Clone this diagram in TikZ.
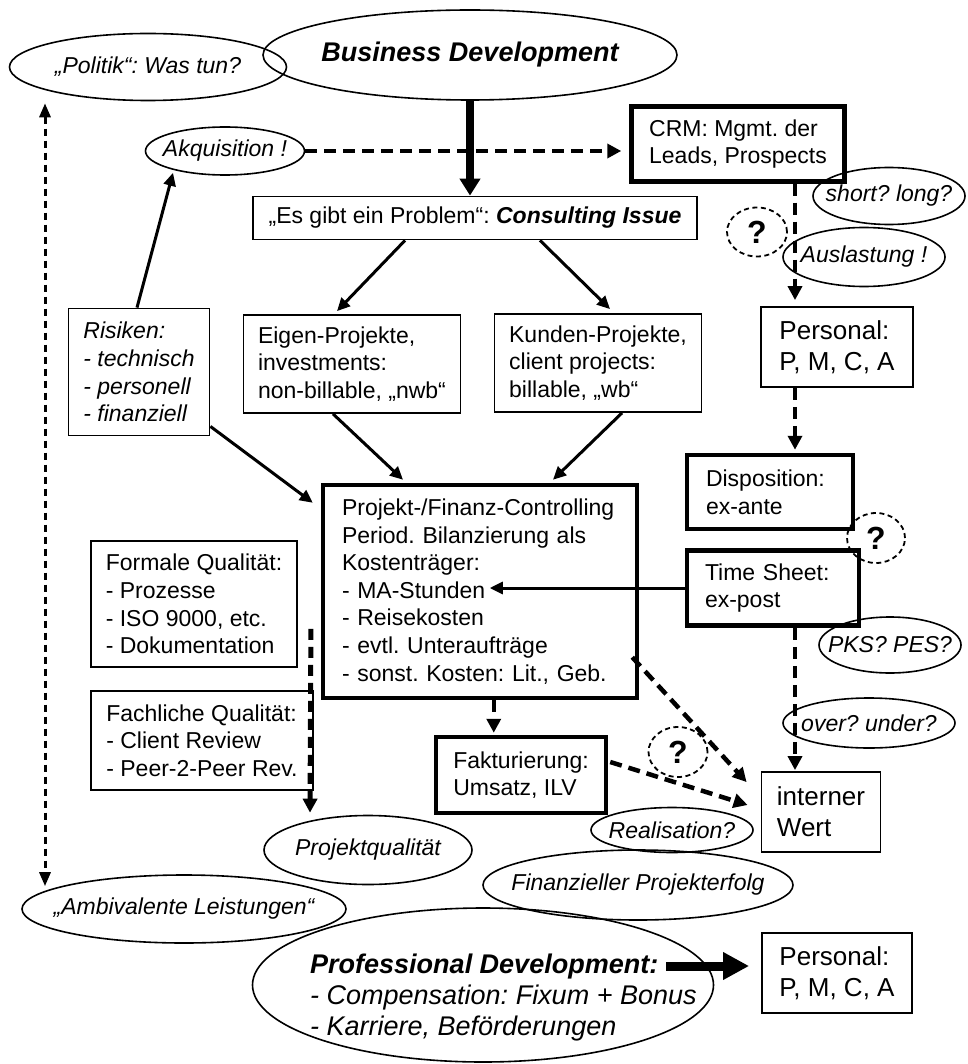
\documentclass[tikz,border=0pt]{standalone}
\usepackage{fontspec}
\setmainfont{Liberation Sans}
\usetikzlibrary{shapes.geometric,arrows.meta,calc}
\frenchspacing
% font size in pt with 1.2 line spacing
\newcommand\fsz[1]{\fontsize{#1pt}{\the\dimexpr #1pt*6/5\relax}\selectfont}
% zero-width label so the ellipse keeps its given size
\newcommand\zw[1]{\makebox[0pt]{#1}}

\begin{document}
\begin{tikzpicture}[x=1pt,y=-1pt,
  every node/.style={font=\fsz{23}},
  sz/.style 2 args={minimum width=#1pt, minimum height=#2pt},
  thinbox/.style={draw, line width=1.8pt, inner sep=0pt, align=left},
  thickbox/.style={draw, line width=4.5pt, inner sep=0pt, align=left},
  oval/.style={draw, ellipse, line width=1.6pt, inner sep=0pt, font=\fsz{23}\itshape},
  qmark/.style={draw, ellipse, line width=1.8pt, dash pattern=on 5pt off 3.5pt,
    inner sep=0pt, font=\fsz{32}\bfseries},
  conn/.style={line width=3pt, -{Triangle[length=13pt,width=12pt]}},
  dconn/.style={line width=4.5pt, dash pattern=on 12pt off 7pt,
    -{Triangle[length=14pt,width=14pt]}},
  qconn/.style={line width=5pt, dash pattern=on 11pt off 7pt,
    -{Triangle[length=14pt,width=14pt]}},
  dotconn/.style={line width=3pt, dash pattern=on 7pt off 5pt,
    {Triangle[length=14pt,width=11pt]}-{Triangle[length=14pt,width=11pt]}},
  bigconn/.style={line width=8pt, -{Triangle[length=17pt,width=20pt]}},
  hugeconn/.style={line width=9pt, -{Triangle[length=26pt,width=26pt]}},
]
\fill[white] (0,0) rectangle (967,1064);
\useasboundingbox (0,0) rectangle (967,1064);

% top row
\node[oval, sz={277}{67}] (politik) at (148,67) {\zw{„Politik“: Was tun?}};
\node[oval, sz={414}{90}, font=\fsz{27}\bfseries\itshape] (bd) at (470,55) {\zw{Business Development}};
\node[oval, sz={159}{48}] (akq) at (225,151) {\zw{Akquisition !}};
\node[thickbox, sz={213}{75}] (crm) at (738,144) {CRM: Mgmt. der\\Leads, Prospects};
\node[thinbox, sz={444}{43}, align=center] (ci) at (475,218) {„Es gibt ein Problem“: \textbf{\textit{Consulting Issue}}};
\node[oval, sz={152}{57}] (short) at (889,196) {\zw{short? long?}};
\node[qmark, sz={60}{49}] (q1) at (757,232) {?};
\node[oval, sz={162}{59}] (ausl) at (864,257) {\zw{Auslastung !}};
\node[thinbox, sz={152}{80}, font=\fsz{26}] (pers1) at (837,347) {Personal:\\P, M, C, A};

% project types and risks
\node[thinbox, sz={217}{98}] (eigen) at (352,364) {Eigen-Projekte,\\investments:\\non-billable, „nwb“};
\node[thinbox, sz={207}{98}] (kunden) at (598,363) {Kunden-Projekte,\\client projects:\\billable, „wb“};
\node[thinbox, sz={141}{127}, font=\fsz{23}\itshape] (ris) at (139,372) {Risiken:\\- technisch\\- personell\\- finanziell};

% controlling block
\node[thickbox, sz={314}{213}, text width=276pt] (ctrl) at (480,591.5) {Projekt-/Finanz-Controlling\\Period. Bilanzierung als\\Kostenträger:\\- MA-Stunden\\- Reisekosten\\- evtl. Unteraufträge\\- sonst. Kosten: Lit., Geb.};
\node[thickbox, sz={166}{74}, text width=128pt] (disp) at (770,492) {Disposition:\\ex-ante};
\node[qmark, sz={58}{50}] (q2) at (876,538) {?};
\node[thickbox, sz={172}{75}, text width=136pt] (ts) at (773,588) {Time Sheet:\\ex-post};
\node[oval, sz={142}{56}] (pks) at (890,645) {\zw{PKS? PES?}};

% quality
\node[thinbox, sz={206}{126}] (formal) at (194,604) {Formale Qualität:\\- Prozesse\\- ISO 9000, etc.\\- Dokumentation};
\node[thinbox, sz={222}{99}] (fach) at (202,740.5) {Fachliche Qualität:\\- Client Review\\- Peer-2-Peer Rev.};

% billing and value
\node[oval, sz={172}{50}] (ouw) at (869,723) {\zw{over? under?}};
\node[thickbox, sz={170}{76}] (fakt) at (521,775) {Fakturierung:\\Umsatz, ILV};
\node[qmark, sz={59}{50}] (q3) at (678,752) {?};
\node[thinbox, sz={119}{80}, font=\fsz{26}] (iw) at (821,812) {interner\\Wert};
\node[oval, sz={162}{45}] (real) at (672,830) {\zw{Realisation?}};

% outcomes
\node[oval, sz={208}{69}] (pq) at (368,850) {\zw{Projektqualität}};
\node[oval, sz={324}{68}] (amb) at (184,909) {\zw{„Ambivalente Leistungen“}};
\node[oval, sz={310}{70}] (fin) at (638,885) {\zw{Finanzieller Projekterfolg}};
\node[oval, sz={461}{154}] (pd) at (483,985) {};
\node[anchor=west, align=left, inner sep=0pt, font=\fontsize{27pt}{31pt}\selectfont\itshape] (pdtext) at (310,998)
  {\textbf{Professional Development:}\\- Compensation: Fixum + Bonus\\- Karriere, Beförderungen};
\node[thinbox, sz={150}{80}, font=\fsz{26}] (pers2) at (837,973) {Personal:\\P, M, C, A};

% connectors
\coordinate (rc) at (795,0);
\draw[bigconn] (bd.south) -- (bd.south |- ci.north);
\draw[dconn] (akq.east) -- ($(akq.east -| crm.west)+(-8,0)$);
\draw[dconn] (crm.south -| rc) -- ($(pers1.north -| rc)+(0,-6)$);
\draw[dconn] (pers1.south -| rc) -- ($(disp.north -| rc)+(0,-3)$);
\draw[dconn] (ts.south -| rc) -- ($(iw.north -| rc)+(0,-1)$);
\draw[conn] ($(ci.south)+(-70,0)$) -- ($(eigen.north)+(-15,-3)$);
\draw[conn] ($(ci.south)+(65,0)$) -- ($(kunden.north)+(12,-4)$);
\draw[conn] ($(eigen.south)+(-19,0)$) -- ($(ctrl.north)+(-77,-3)$);
\draw[conn] ($(kunden.south)+(24,0)$) -- ($(ctrl.north)+(73,-3)$);
\draw[conn] ($(ris.north)+(-2,0)$) -- ($(akq.south)+(-52,-3)$);
\draw[conn] ($(ris.south east)+(0,-10)$) -- ($(ctrl.north west)+(-8,20)$);
\draw[conn] (ts.west) -- ($(ts.west -| ctrl.west)+(169,0)$);
\draw[dconn] ($(ctrl.south -| fakt.north west)+(60,0)$) -- ($(fakt.north west)+(60,-2)$);
\draw[dconn] ($(ctrl.south east)+(-7,-43)$) -- ($(iw.north west)+(-14,11)$);
\draw[dconn] ($(fakt.east)+(2,-13)$) -- ($(iw.west)+(-13,-7)$);
\draw[qconn] ($(formal.south east)+(13,-39)$) -- ($(pq.north)+(-58,-2)$);
\draw[dotconn] ($(politik.south)+(-103,2)$) -- ($(amb.north)+(-139,12)$);
\draw[hugeconn] ($(pers2.west)+(-95,-7)$) -- ($(pers2.west)+(-12,-7)$);
\end{tikzpicture}
\end{document}
